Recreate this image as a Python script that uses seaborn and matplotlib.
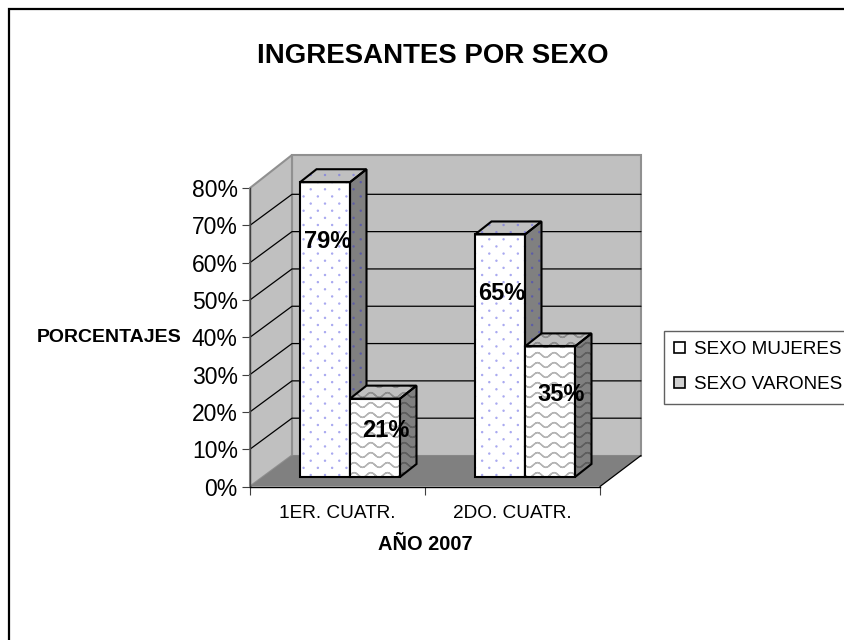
import numpy as np
import pandas as pd
import seaborn as sns
import matplotlib.pyplot as plt
from matplotlib import hatch as mhatch
from matplotlib.patches import Polygon, Rectangle, Patch
from matplotlib.path import Path
from matplotlib.transforms import Affine2D, IdentityTransform

# Datos
cuatrimestres = ["1ER. CUATR.", "2DO. CUATR."]
mujeres = [79, 65]
varones = [21, 35]
serie_mujeres = "SEXO MUJERES"
serie_varones = "SEXO VARONES"
y_ticks = [0, 10, 20, 30, 40, 50, 60, 70, 80]

# Estilo 3D de Excel, en pixeles
W, H = 844, 640
AX_L, AX_R, AX_B, AX_T = 250, 600, 486.5, 188
WALL_DX, WALL_DY = 42, 31
BAR_SHIFT_X, BAR_SHIFT_Y = 12.5, 9.5
BAR_DX, BAR_DY = 16.5, 13
label_dx = [3, 2, 11, 11]
label_drop = [59, 59, 32, 48]


# Tramas propias: puntos y ondas como en Excel
class WaveHatch(mhatch.HatchPatternBase):
    def __init__(self, hatch, density):
        self.on = "-" in hatch
        self.rows, self.n = 10, 121
        self.num_vertices = self.rows * self.n * 2 if self.on else 0

    def set_vertices_and_codes(self, vertices, codes):
        t = np.linspace(0, 1, self.n)
        i = 0
        for r in range(self.rows):
            y = (r + 0.5) / self.rows + 0.024 * np.sin(2 * np.pi * 6 * t)
            line = np.column_stack([t, y])
            vertices[i:i + self.n * 2] = np.vstack([line, line[::-1]])
            codes[i:i + self.n * 2] = Path.LINETO
            codes[i] = Path.MOVETO
            i += self.n * 2


class DotHatch(mhatch.HatchPatternBase):
    def __init__(self, hatch, density):
        self.on = "." in hatch
        self.circle = Path.unit_circle()
        self.cols, self.rows = 7, 14
        self.pts = [(c, r) for r in range(self.rows) for c in range(self.cols)]
        self.num_vertices = len(self.pts) * len(self.circle.vertices) if self.on else 0

    def set_vertices_and_codes(self, vertices, codes):
        k = len(self.circle.vertices)
        for j, (c, r) in enumerate(self.pts):
            cx = (c + 0.25 + 0.5 * (r % 2)) / self.cols
            cy = (r + 0.5) / self.rows
            vertices[j * k:(j + 1) * k] = self.circle.vertices * 0.005 + [cx, cy]
            codes[j * k:(j + 1) * k] = self.circle.codes


mhatch._hatch_types[:] = [WaveHatch, DotHatch]

sns.set_style("white")
plt.rcParams["font.family"] = ["Liberation Sans", "DejaVu Sans"]
plt.rcParams["hatch.linewidth"] = 1.0
plt.rcParams["text.color"] = "black"
plt.rcParams["xtick.color"] = "black"
plt.rcParams["ytick.color"] = "black"

df = pd.DataFrame({
    "cuatrimestre": cuatrimestres * 2,
    "porcentaje": mujeres + varones,
    "sexo": [serie_mujeres] * 2 + [serie_varones] * 2,
})

fig = plt.figure(figsize=(W / 100, H / 100), dpi=100)
ax = fig.add_axes([AX_L / W, 1 - AX_B / H, (AX_R - AX_L) / W, (AX_B - AX_T) / H])
sns.barplot(data=df, x="cuatrimestre", y="porcentaje", hue="sexo",
            palette=["white", "white"], saturation=1, width=0.5714,
            legend=False, ax=ax)
ax.set_xlim(-0.5, 1.5)
ax.set_ylim(0, 80)
ax.patch.set_visible(False)


def pt(x, y, dx=0, dy=0):
    px = ax.transData.transform((x, y))
    return (px[0] + dx, px[1] + dy)


def poly(pts, **kw):
    p = Polygon(pts, closed=True, transform=IdentityTransform(), clip_on=False, **kw)
    ax.add_patch(p)
    return p


# Paredes y piso
x0, x1 = ax.get_xlim()
poly([pt(x0, 80, WALL_DX, WALL_DY + 2), pt(x1, 80, WALL_DX - 1, WALL_DY + 2),
      pt(x1, 0, WALL_DX - 1, WALL_DY), pt(x0, 0, WALL_DX, WALL_DY)],
     fc="#c0c0c0", ec="#909090", lw=1.5, zorder=0.5)
poly([pt(x0, 0), pt(x0, 0, WALL_DX, WALL_DY), pt(x0, 80, WALL_DX, WALL_DY + 2), pt(x0, 80)],
     fc="#c0c0c0", ec="#909090", lw=1.5, zorder=0.6)
poly([pt(x0, 0), pt(x0, 0, WALL_DX, WALL_DY), pt(x1, 0, WALL_DX - 1, WALL_DY), pt(x1, 0)],
     fc="#808080", ec="none", zorder=0.7)
for v in y_ticks[1:-1]:
    a, b, c = pt(x0, v), pt(x0, v, WALL_DX, WALL_DY), pt(x1, v, WALL_DX - 1, WALL_DY)
    ax.plot([a[0], b[0], c[0]], [a[1], b[1], c[1]], color="black", lw=0.9,
            transform=IdentityTransform(), clip_on=False, zorder=0.8)
a, b = pt(x1, 0), pt(x1, 0, WALL_DX - 1, WALL_DY)
ax.plot([a[0], b[0]], [a[1], b[1]], color="black", lw=0.9,
        transform=IdentityTransform(), clip_on=False, zorder=0.8)

# Barras con sus caras laterales
shift = Affine2D().translate(BAR_SHIFT_X, BAR_SHIFT_Y)
estilos = [
    {"h": ".", "front": "#a8a8f0", "side": "#5c5ca8", "top": "#8c8cd8", "side_bg": "#808080"},
    {"h": "-", "front": "#b4b4b4", "side": "#5e5e5e", "top": "#8e8e8e", "side_bg": "#808080"},
]
n = 0
for s, (cont, est) in enumerate(zip(ax.containers, estilos)):
    z = 2 + s * 2
    for bar in cont:
        bx, by = bar.get_x(), bar.get_y()
        bw, bh = bar.get_width(), bar.get_height()
        bar.set_hatch(est["h"])
        bar.set_edgecolor(est["front"])
        bar.set_linewidth(0)
        bar.set_transform(ax.transData + shift)
        bar.set_clip_on(False)
        bar.set_zorder(z)
        ax.add_patch(Rectangle((bx, by), bw, bh, fc="none", ec="black", lw=1.5,
                               transform=ax.transData + shift, clip_on=False, zorder=z + 0.5))
        sx, sy = BAR_SHIFT_X, BAR_SHIFT_Y
        side = [pt(bx + bw, by, sx, sy), pt(bx + bw, by, sx + BAR_DX, sy + BAR_DY),
                pt(bx + bw, by + bh, sx + BAR_DX, sy + BAR_DY), pt(bx + bw, by + bh, sx, sy)]
        top = [pt(bx, by + bh, sx, sy), pt(bx, by + bh, sx + BAR_DX, sy + BAR_DY),
               pt(bx + bw, by + bh, sx + BAR_DX, sy + BAR_DY), pt(bx + bw, by + bh, sx, sy)]
        poly(side, fc=est["side_bg"], ec=est["side"], lw=0, hatch=est["h"], zorder=z)
        poly(top, fc="#c0c0c0", ec=est["top"], lw=0, hatch=est["h"], zorder=z)
        poly(side, fc="none", ec="black", lw=1.5, zorder=z + 0.5)
        poly(top, fc="none", ec="black", lw=1.5, zorder=z + 0.5)
        ax.annotate(f"{int(bh)}%", (bx + bw / 2, bh),
                    xytext=(BAR_SHIFT_X + label_dx[n], BAR_SHIFT_Y - label_drop[n]),
                    textcoords="offset pixels", ha="center", va="center",
                    fontsize=17, fontweight="bold", color="black", zorder=10)
        n += 1

# Ejes
for side in ["top", "right"]:
    ax.spines[side].set_visible(False)
ax.spines["left"].set_color("#404040")
ax.spines["bottom"].set_color("black")
for side in ["left", "bottom"]:
    ax.spines[side].set_linewidth(1)
    ax.spines[side].set_zorder(1)
ax.set_yticks(y_ticks)
ax.set_yticklabels([f"{v}%" for v in y_ticks], fontsize=16.5)
ax.set_xticks(range(len(cuatrimestres)))
ax.set_xticklabels(cuatrimestres, fontsize=13.7)
ax.set_xticks([-0.5, 0.5, 1.5], minor=True)
ax.tick_params(axis="y", left=True, length=5.8, width=0.8, color="#404040", pad=3)
ax.tick_params(axis="x", which="major", bottom=False, length=0, pad=13)
ax.tick_params(axis="x", which="minor", bottom=True, length=5.8, width=0.8, color="#404040")
ax.set_xlabel("")
ax.set_ylabel("")

fig.text(433 / W, 1 - 56 / H, "INGRESANTES POR SEXO", ha="center", va="center",
         fontsize=19.9, fontweight="bold")
fig.text(425 / W, 1 - 545 / H, "AÑO 2007", ha="center", va="center",
         fontsize=14.4, fontweight="bold")
fig.text(109.5 / W, 1 - 338 / H, "PORCENTAJES", ha="center", va="center",
         fontsize=14, fontweight="bold")

# Leyenda
handles = [Patch(fc="white", ec="black", lw=1.2), Patch(fc="#d0d0d0", ec="black", lw=1.2)]
ax.legend(handles, [serie_mujeres, serie_varones], loc="upper left",
          bbox_to_anchor=(664 / W, 1 - 331 / H), bbox_transform=fig.transFigure,
          borderaxespad=0, fancybox=False, framealpha=1, edgecolor="#606060",
          handlelength=0.55, handleheight=0.55, handletextpad=0.5,
          borderpad=0.55, labelspacing=0.95, prop={"size": 13.6})

# Marco exterior
fig.add_artist(Rectangle((9, -10), W + 20, H - 9 + 10, fc="none", ec="black", lw=1.6,
                         transform=IdentityTransform()))

fig.savefig("out.png", dpi=100)
plt.close(fig)
